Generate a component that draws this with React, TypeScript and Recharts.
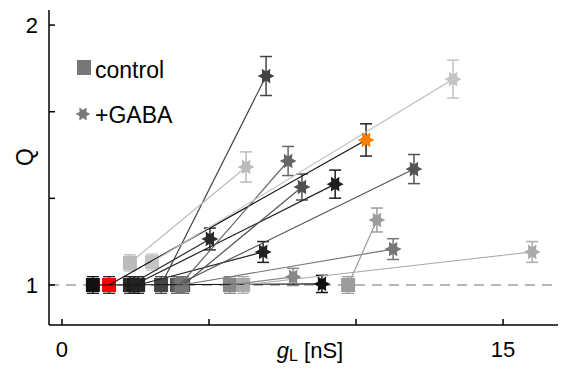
import React from 'react';
import {
  ComposedChart, Scatter, XAxis, YAxis, ReferenceLine, ErrorBar,
} from 'recharts';

// Per-cell leak conductance (nS) and Q, before (control) and after GABA
const controlX = [1.05, 1.6, 2.31, 2.45, 2.59, 3.37, 3.91, 4.01, 4.12, 4.08, 5.71, 6.16, 2.31, 3.06, 9.73];
const controlQ = [1, 1, 1, 1, 1, 1, 1, 1, 1, 1, 1, 1, 1.085, 1.088, 1];
const controlErr = [0.032, 0.032, 0.032, 0.032, 0.032, 0.032, 0.032, 0.032, 0.032, 0.032, 0.032, 0.032, 0.031, 0.031, 0.032];
const gabaX = [8.84, 10.34, 5.03, 9.29, 6.84, 6.94, 11.97, 7.69, 8.16, 11.26, 7.86, 15.99, 6.26, 13.3, 10.71];
const gabaQ = [1.004, 1.558, 1.177, 1.388, 1.127, 1.804, 1.446, 1.477, 1.377, 1.138, 1.031, 1.127, 1.454, 1.792, 1.25];
const gabaErr = [0.033, 0.062, 0.042, 0.054, 0.04, 0.075, 0.056, 0.056, 0.05, 0.04, 0.033, 0.04, 0.058, 0.073, 0.046];
const cellColor = ['#111', '#111', '#2a2a2a', '#1e1e1e', '#222', '#444', '#555', '#666', '#505050', '#777', '#888', '#aaa', '#bbb', '#c4c4c4', '#9c9c9c'];

// example cell drawn in colour
const highlightCell = 1;
const controlHighlight = '#ff0000';
const gabaHighlight = '#ff8000';

const xTicks = [0, 5, 10, 15];
const xTickLabels = ['0', '', '', '15'];
const yTicks = [1, 4 / 3, 5 / 3, 2];
const yTickLabels = ['1', '', '', '2'];

const FONT = '"Liberation Sans", Arial, Helvetica, sans-serif';

const controls = controlX.map((x, i) => ({
  x, y: controlQ[i], err: controlErr[i],
  color: i === highlightCell ? controlHighlight : cellColor[i],
}));
const gaba = gabaX.map((x, i) => ({
  x, y: gabaQ[i], err: gabaErr[i],
  color: i === highlightCell ? gabaHighlight : cellColor[i],
}));

function starPath(cx: number, cy: number, r1: number, r2: number) {
  const pts: string[] = [];
  for (let i = 0; i < 12; i++) {
    const a = (i * Math.PI) / 6;
    const r = i % 2 ? r2 : r1;
    pts.push(`${(cx + r * Math.cos(a)).toFixed(2)},${(cy + r * Math.sin(a)).toFixed(2)}`);
  }
  return pts.join(' ');
}

const SquareShape = (props: any) => {
  const { cx, cy, payload } = props;
  return <rect x={cx - 7} y={cy - 7} width={14} height={14} fill={payload.color} />;
};

const StarShape = (props: any) => {
  const { cx, cy, payload } = props;
  return <polygon points={starPath(cx, cy, 8.5, 4.6)} fill={payload.color} />;
};

const NoShape = () => <g />;

const BottomTick = (props: any) => {
  const { x, y, index } = props;
  return (
    <g>
      <line x1={x} x2={x} y1={y} y2={y - 6} stroke="#000" strokeWidth={1.5} />
      <text x={x} y={y + 32} textAnchor="middle" fontSize={22} fontFamily={FONT} fill="#000">
        {xTickLabels[index] ?? ''}
      </text>
    </g>
  );
};

const TopTick = (props: any) => {
  const { x, y } = props;
  return <line x1={x} x2={x} y1={y} y2={y + 6} stroke="#000" strokeWidth={1.5} />;
};

const LeftTick = (props: any) => {
  const { x, y, index } = props;
  return (
    <g>
      <line x1={x} x2={x + 6} y1={y} y2={y} stroke="#000" strokeWidth={1.5} />
      <text x={x - 11} y={y + 8} textAnchor="end" fontSize={22} fontFamily={FONT} fill="#000">
        {yTickLabels[index] ?? ''}
      </text>
    </g>
  );
};

// error bars take the cell's grey; the coloured cell keeps dark bars
const barColor = (i: number) => (i === highlightCell ? '#222' : cellColor[i]);

export default function App() {
  return (
    <div style={{ position: 'relative', width: 558, height: 361 }}>
      <ComposedChart width={558} height={361} margin={{ top: 2, right: 0, left: 0, bottom: 0 }}>
        <XAxis
          dataKey="x" type="number" domain={[-0.442, 17.14]} ticks={xTicks}
          allowDataOverflow height={44} tickSize={0} tickMargin={0} tickLine={false}
          axisLine={{ stroke: '#000', strokeWidth: 1.5 }} tick={<BottomTick />} interval={0}
        />
        <XAxis
          xAxisId="top" orientation="top" dataKey="x" type="number" domain={[-0.442, 17.14]}
          ticks={xTicks} allowDataOverflow height={0} tickSize={0} tickMargin={0} tickLine={false}
          axisLine={{ stroke: '#000', strokeWidth: 1.5 }} tick={<TopTick />} interval={0}
        />
        <YAxis
          dataKey="y" type="number" domain={[0.846, 2.058]} ticks={yTicks} allowDataOverflow
          width={41} tickSize={0} tickMargin={0} tickLine={false}
          axisLine={{ stroke: '#000', strokeWidth: 1.5 }} tick={<LeftTick />} interval={0}
        />
        <ReferenceLine y={1} stroke="#a0a0a0" strokeWidth={1.5} strokeDasharray="10 7" />

        {controls.map((c, i) => (
          <Scatter key={`ctrl-${i}`} data={[c]} shape={<SquareShape />} isAnimationActive={false}>
            <ErrorBar dataKey="err" direction="y" width={6} stroke={barColor(i)} strokeWidth={1.3} />
          </Scatter>
        ))}

        {controls.map((c, i) => (
          <Scatter
            key={`pair-${i}`}
            data={[c, gaba[i]]}
            line={{ stroke: cellColor[i], strokeWidth: 1.2 }}
            lineJointType="linear"
            shape={<NoShape />}
            isAnimationActive={false}
          />
        ))}

        {gaba.map((g, i) => (
          <Scatter key={`gaba-${i}`} data={[g]} shape={<StarShape />} isAnimationActive={false}>
            <ErrorBar dataKey="err" direction="y" width={6} stroke={barColor(i)} strokeWidth={1.5} />
          </Scatter>
        ))}
      </ComposedChart>

      <svg width={558} height={361} style={{ position: 'absolute', left: 0, top: 0, pointerEvents: 'none' }}>
        <g fontFamily={FONT} fill="#000">
          <rect x={69} y={52} width={14} height={15} fill="#777" />
          <text x={87} y={70} fontSize={23}>control</text>
          <polygon points={starPath(75, 106, 7.5, 4)} fill="#777" />
          <text x={87} y={115} fontSize={23}>+GABA</text>
          <text x={25} y={149} fontSize={23} textAnchor="middle" transform="rotate(-90, 25, 149)">Q</text>
          <text x={302} y={350} fontSize={22} textAnchor="middle">
            <tspan fontStyle="italic">g</tspan>
            <tspan fontSize={16} dy={3}>L</tspan>
            <tspan dy={-3}> [nS]</tspan>
          </text>
        </g>
      </svg>
    </div>
  );
}
